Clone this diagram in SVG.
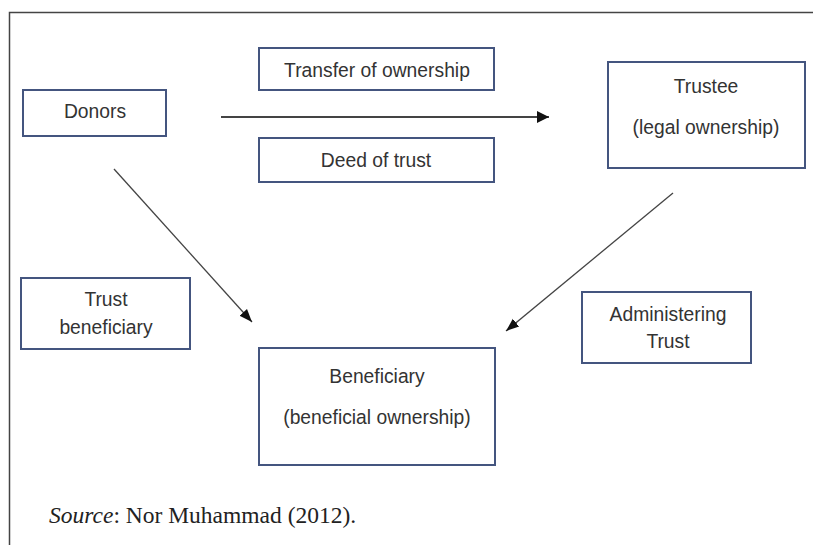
<svg xmlns="http://www.w3.org/2000/svg" width="813" height="545" viewBox="0 0 813 545">
<style>
.box{fill:#fff;stroke:#44557f;stroke-width:2}
.t{font-family:"Liberation Sans",Arial,sans-serif;font-size:19.3px;fill:#333;text-anchor:middle}
.src{font-family:"Liberation Serif","Times New Roman",serif;font-size:23.5px;fill:#222}
.conn{stroke:#444;stroke-width:1.3;fill:none}
</style>
<defs>
<marker id="ah" markerUnits="userSpaceOnUse" markerWidth="14" markerHeight="12" viewBox="0 0 14 12" refX="13" refY="6" orient="auto">
<path d="M0,1 L13,6 L0,11 Z" fill="#111"/>
</marker>
</defs>
<rect width="813" height="545" fill="#fff"/>
<path d="M9.5,545 V12.5 H813" fill="none" stroke="#444" stroke-width="1.5"/>
<g id="connectors">
<line class="conn" x1="221" y1="117" x2="549" y2="117" style="stroke-width:2"/>
<line class="conn" x1="114" y1="169" x2="252" y2="322" marker-end="url(#ah)"/>
<line class="conn" x1="673" y1="193" x2="506" y2="331" marker-end="url(#ah)"/>
<polygon points="537,111 549,117 537,123" fill="#111"/>
</g>
<g id="donors"><rect class="box" x="23" y="90" width="143" height="46"/><text class="t" x="95" y="118">Donors</text></g>
<g id="transfer"><rect class="box" x="259" y="48" width="235" height="42"/><text class="t" x="377" y="77">Transfer of ownership</text></g>
<g id="deed"><rect class="box" x="259" y="138" width="235" height="44"/><text class="t" x="376" y="167">Deed of trust</text></g>
<g id="trustee"><rect class="box" x="608" y="62" width="197" height="106"/><text class="t" x="706" y="93">Trustee</text><text class="t" x="706" y="134">(legal ownership)</text></g>
<g id="trust-beneficiary"><rect class="box" x="21" y="278" width="169" height="71"/><text class="t" x="106" y="306">Trust</text><text class="t" x="106" y="334">beneficiary</text></g>
<g id="administering"><rect class="box" x="582" y="292" width="169" height="71"/><text class="t" x="668" y="321">Administering</text><text class="t" x="668" y="348">Trust</text></g>
<g id="beneficiary"><rect class="box" x="259" y="348" width="236" height="117"/><text class="t" x="377" y="383">Beneficiary</text><text class="t" x="377" y="424">(beneficial ownership)</text></g>
<text class="src" x="49" y="523"><tspan font-style="italic">Source</tspan>: Nor Muhammad (2012).</text>
</svg>
